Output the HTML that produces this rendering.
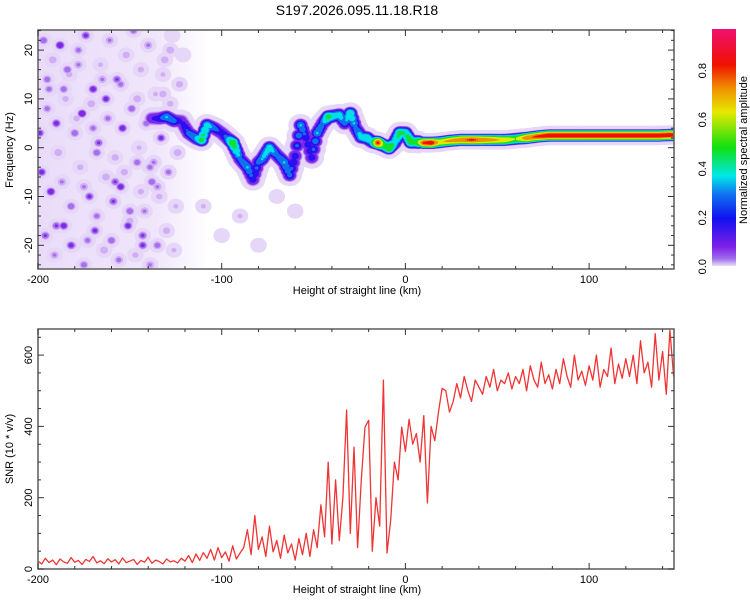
<!DOCTYPE html>
<html><head><meta charset="utf-8"><style>
body{margin:0;background:#fff;}
svg{display:block;font-family:"Liberation Sans",sans-serif;}
</style></head><body>
<svg id="chart" width="750" height="600" viewBox="0 0 750 600" xmlns="http://www.w3.org/2000/svg">
<text x="357" y="15" font-size="14" text-anchor="middle">S197.2026.095.11.18.R18</text>
<defs>
<linearGradient id="cbg" x1="0" y1="1" x2="0" y2="0">
<stop offset="0" stop-color="#eadcf8"/><stop offset="0.03" stop-color="#a070ec"/><stop offset="0.08" stop-color="#8020e8"/>
<stop offset="0.2" stop-color="#1010f0"/><stop offset="0.3" stop-color="#1070f0"/><stop offset="0.38" stop-color="#00e8e8"/>
<stop offset="0.5" stop-color="#10e010"/><stop offset="0.65" stop-color="#e8e800"/><stop offset="0.75" stop-color="#f09000"/>
<stop offset="0.85" stop-color="#f01000"/><stop offset="1" stop-color="#f01070"/>
</linearGradient>
<linearGradient id="haze" x1="0" y1="0" x2="1" y2="0">
<stop offset="0" stop-color="#e6d6f8" stop-opacity="0.85"/><stop offset="0.7" stop-color="#e6d6f8" stop-opacity="0.6"/><stop offset="1" stop-color="#e6d6f8" stop-opacity="0"/>
</linearGradient>
<clipPath id="topclip"><rect x="38" y="30" width="636" height="239"/></clipPath>
<clipPath id="botclip"><rect x="38" y="329" width="636" height="240"/></clipPath>
</defs>
<rect x="38" y="30" width="170" height="239" fill="url(#haze)"/>
<g id="spec" clip-path="url(#topclip)"></g>
<g id="snr" clip-path="url(#botclip)"></g>
<g id="axes"></g>
<rect x="712" y="29" width="24" height="237" fill="url(#cbg)"/>
<text transform="translate(747,150) rotate(-90)" font-size="11" text-anchor="middle">Normalized spectral amplitude</text>
<text transform="translate(13,150) rotate(-90)" font-size="11" text-anchor="middle">Frequency (Hz)</text>
<text x="357" y="294" font-size="11" text-anchor="middle">Height of straight line (km)</text>
<text transform="translate(13,449) rotate(-90)" font-size="11" text-anchor="middle">SNR (10 * v/v)</text>
<text x="357" y="593" font-size="11" text-anchor="middle">Height of straight line (km)</text>
</svg>
<script>
const ridgeH=[-138,-134,-130,-126,-122,-118,-114,-111,-108,-104,-100,-97,-94,-90,-86,-83,-80,-78,-74,-70,-66,-63,-60,-57,-54,-51,-48,-45,-42,-39,-36,-33,-30,-27,-24,-21,-18,-15,-12,-9,-6,-3,0,3,6,10,14,18,24,30,36,42,48,54,60,66,72,78,84,90,96,102,108,114,120,126,132,138,144,148];
const ridgeF=[6,6,6.3,5.5,5.5,3,2,1.6,4.6,4,3,2,1,-2.3,-4,-6.5,-3,-2.3,0,-1.5,-3,-5.6,-1.7,4.6,2,-2,3,5,6.3,6.5,6.7,5,7,4,2.2,2,1.2,1,0.5,0,1,3,3,1.2,1.2,1,1,1.1,1.4,1.6,1.6,1.6,1.6,1.6,1.8,2,2.3,2.5,2.5,2.5,2.5,2.5,2.5,2.5,2.5,2.5,2.5,2.5,2.6,2.6];
const ridgeA=[.2,.25,.35,.3,.2,.3,.35,.5,.4,.3,.25,.3,.55,.3,.35,.25,.3,.35,.4,.3,.35,.3,.25,.35,.25,.25,.35,.3,.5,.4,.4,.3,.45,.3,.4,.45,.35,.85,.5,.6,.4,.5,.45,.55,.5,.85,.9,.7,.75,.8,.85,.8,.75,.7,.6,.8,.85,.9,.9,.9,.9,.9,.9,.9,.9,.9,.9,.9,.9,.85];
const noiseH=[-197,-192,-188,-183,-178,-174,-170,-166,-161,-157,-152,-148,-144,-140,-136,-131,-127,-123,-195,-190,-185,-180,-176,-171,-167,-162,-158,-154,-149,-145,-141,-137,-133,-128,-124,-198,-193,-187,-182,-177,-172,-168,-163,-159,-155,-150,-146,-142,-138,-134,-129,-125,-196,-191,-186,-181,-175,-169,-164,-160,-156,-151,-147,-143,-139,-135,-130,-126,-194,-189,-184,-179,-173,-165,-153,-144,-132,-121,-110,-100,-90,-80,-70,-60,-199,-186,-175,-163,-150,-139,-128,-190,-178,-168,-155,-143,-132,-195,-182,-170,-158,-146,-135];
const noiseF=[22,18,21,15,20,23,12,17,22,14,19,24,16,21,11,18,23,13,8,5,10,3,7,9,1,6,-2,4,8,0,5,-3,2,9,-1,-5,-9,-7,-12,-4,-10,-14,-6,-11,-8,-15,-3,-13,-7,-10,-5,-12,-18,-22,-16,-20,-24,-17,-21,-19,-23,-16,-22,-18,-24,-20,-17,-21,12,-1,16,6,-19,14,-5,-9,15,19,-12,-18,-14,-20,-10,-13,3,12,-8,10,-13,-4,20,-16,17,-1,13,-20,11,14,-20,4,-7,10,-8];
const noiseA=[.12,.08,.18,.06,.1,.14,.16,.05,.09,.13,.07,.11,.06,.09,.05,.08,.04,.07,.1,.15,.06,.12,.18,.08,.13,.1,.07,.16,.12,.05,.11,.09,.14,.06,.08,.15,.17,.09,.12,.06,.14,.1,.08,.13,.16,.07,.11,.09,.12,.06,.1,.05,.13,.09,.16,.07,.11,.14,.08,.12,.1,.15,.06,.13,.09,.11,.07,.05,.1,.08,.12,.06,.1,.09,.07,.06,.05,.04,.05,.04,.05,.04,.04,.04,.14,.11,.09,.15,.12,.1,.08,.13,.09,.12,.1,.14,.07,.11,.15,.1,.13,.08,.09];
const snrStart=-200, snrStep=2;
const snrVals=[22,14,30,18,25,12,28,20,16,32,19,24,13,27,21,35,17,23,15,29,20,26,14,31,18,22,27,13,24,19,33,16,25,21,14,28,20,23,17,30,22,
38,18,42,24,46,
30,55,25,60,32,48,22,65,28,45,
60,110,40,150,55,90,35,120,48,80,
30,95,45,70,25,85,40,100,35,110,
60,180,90,300,70,
250,80,200,446,100,
342,60,250,398,417,
50,200,120,530,45,
137,300,250,398,330,
420,350,380,300,430,185,400,360,440,507,
500,440,470,520,480,540,500,470,530,510,
490,540,510,560,500,530,520,550,505,540,
520,560,500,570,530,510,580,520,545,505,
560,520,590,540,510,600,530,555,515,570,
530,600,510,560,540,620,520,575,535,590,
540,600,520,640,550,580,510,660,530,610,490,670,540];
const xTicks=[-200,-100,0,100];
const fTicks=[-20,-10,0,10,20];
const snrTicks=[0,200,400,600];
const cbTicks=[0,0.2,0.4,0.6,0.8];

const NS='http://www.w3.org/2000/svg';
const xs=h=>38+(h+200)*1.837;
const fy=f=>147.7-f*4.88;
const sy=v=>569-v*0.3565;
const cy=v=>266.7-v*245;
function mk(tag,attrs,parent){const e=document.createElementNS(NS,tag);for(const k in attrs)e.setAttribute(k,attrs[k]);parent.appendChild(e);return e;}
const levels=[[0,'#e6d6f8'],[0.04,'#cfaef3'],[0.08,'#a56eee'],[0.12,'#7d28e6'],[0.2,'#2a10f0'],[0.27,'#1070f0'],[0.34,'#00dfe8'],[0.45,'#10e030'],[0.6,'#e4e800'],[0.72,'#f09000'],[0.82,'#f01000']];
const spec=document.getElementById('spec');
const blobs=[];
for(let i=0;i<noiseH.length;i++)blobs.push([noiseH[i],noiseF[i],noiseA[i],5]);
for(let i=0;i<ridgeH.length-1;i++){
  const n=Math.max(1,Math.round(ridgeH[i+1]-ridgeH[i]));
  for(let k=0;k<n;k++){const t=k/n;
    const h=ridgeH[i]+t*(ridgeH[i+1]-ridgeH[i]);
    const f=ridgeF[i]+t*(ridgeF[i+1]-ridgeF[i]);
    const a=ridgeA[i]+t*(ridgeA[i+1]-ridgeA[i]);
    blobs.push([h,f,a,h<8?7.5:6.5]);}
}
for(let L=0;L<levels.length;L++){
  const [th,col]=levels[L];
  const g=mk('g',{fill:col},spec);
  
  
  for(const [h,f,a,R] of blobs){
    if(a<=th)continue;
    const r=R*Math.sqrt(1-th/a)*(L===0?1.5:1);
    const e=mk('ellipse',{cx:xs(h),cy:fy(f),rx:r*1.1,ry:r},g);
    
    
  }
}
const snr=document.getElementById('snr');
let d='';
snrVals.forEach((v,i)=>{d+=(i?'L':'M')+xs(snrStart+i*snrStep).toFixed(1)+','+sy(v).toFixed(1);});
const pl=mk('path',{d:d,fill:'none',stroke:'#f03434','stroke-width':1.3,'stroke-linejoin':'round'},snr);


const ax=document.getElementById('axes');
function frame(x0,y0,x1,y1,name){
  const r=mk('rect',{x:x0,y:y0,width:x1-x0,height:y1-y0,fill:'none',stroke:'#666','stroke-width':1.6},ax);
  
  
}
frame(38,30,674,269,'top-plot-frame');
frame(38,329,674,569,'bottom-plot-frame');
function xAxis(y0,y1,labY,prefix){
  for(let h=-200;h<=146;h+=20){
    const major=xTicks.includes(h);const len=major?6:3;
    mk('line',{x1:xs(h),x2:xs(h),y1:y1,y2:y1-len,stroke:'#333'},ax);
    mk('line',{x1:xs(h),x2:xs(h),y1:y0,y2:y0+len,stroke:'#333'},ax);
  }
  xTicks.forEach(h=>{const t=mk('text',{x:xs(h),y:labY,'font-size':11,'text-anchor':'middle'},ax);t.textContent=String(h);
    
    });
}
xAxis(30,269,283,'top');
xAxis(329,569,583,'bottom');
for(let f=-24;f<=24;f+=2){const major=fTicks.includes(f);const len=major?6:3;
  mk('line',{x1:38,x2:38+len,y1:fy(f),y2:fy(f),stroke:'#333'},ax);
  mk('line',{x1:674,x2:674-len,y1:fy(f),y2:fy(f),stroke:'#333'},ax);}
fTicks.forEach(f=>{const t=mk('text',{transform:`translate(32,${fy(f)}) rotate(-90)`,'font-size':11,'text-anchor':'middle'},ax);t.textContent=String(f);
  
  });
for(let v=0;v<=650;v+=50){const major=snrTicks.includes(v);const len=major?6:3;
  mk('line',{x1:38,x2:38+len,y1:sy(v),y2:sy(v),stroke:'#333'},ax);
  mk('line',{x1:674,x2:674-len,y1:sy(v),y2:sy(v),stroke:'#333'},ax);}
snrTicks.forEach(v=>{const t=mk('text',{transform:`translate(32,${sy(v)}) rotate(-90)`,'font-size':11,'text-anchor':'middle'},ax);t.textContent=String(v);
  
  });
cbTicks.forEach(v=>{const t=mk('text',{transform:`translate(706,${cy(v)}) rotate(-90)`,'font-size':11,'text-anchor':'middle'},ax);t.textContent=v.toFixed(1);
  
  });
</script>
</body></html>
